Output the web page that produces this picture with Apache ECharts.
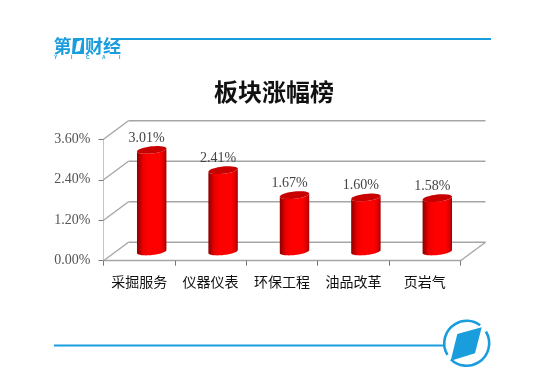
<!DOCTYPE html>
<html>
<head>
<meta charset="utf-8">
<style>html,body{margin:0;padding:0;background:#fff}#c{width:553px;height:384px}</style>
<script src="https://cdn.jsdelivr.net/npm/echarts@6/dist/echarts.min.js"></script>
</head>
<body>
<div id="c"></div>
<script>
const titleText = '板块涨幅榜';
const categories = ['采掘服务', '仪器仪表', '环保工程', '油品改革', '页岩气'];
const values = [3.01, 2.41, 1.67, 1.60, 1.58];
const axisTicks = [0, 1.2, 2.4, 3.6];

const DEPTH_X = 25, DEPTH_Y = -18.5, BAR_RX = 14.8, BAR_RY = 3.6, TILT = -0.11;
const BLUE = '#1a9ddd', GRID = '#a6a6a6', SERIF = '"Liberation Serif","Times New Roman",serif', CJK = '"Noto Sans CJK SC",sans-serif';

function ellipsePoint(cx, cy, a) {
  const x = BAR_RX * Math.cos(a), y = BAR_RY * Math.sin(a);
  return [cx + x * Math.cos(TILT) - y * Math.sin(TILT), cy + x * Math.sin(TILT) + y * Math.cos(TILT)];
}
function ellipseArc(cx, cy, from, to) {
  const pts = [], n = 36;
  for (let i = 0; i <= n; i++) pts.push(ellipsePoint(cx, cy, from + (to - from) * i / n));
  return pts;
}

function renderWall(params, api) {
  const p = api.coord([0, api.value(0)]);
  const x0 = params.coordSys.x, x1 = x0 + params.coordSys.width, y = p[1];
  const lineStyle = { stroke: GRID, lineWidth: 1.4, fill: null };
  const children = [
    { type: 'line', shape: { x1: x0, y1: y, x2: x0 + DEPTH_X, y2: y + DEPTH_Y }, style: lineStyle },
    { type: 'line', shape: { x1: x0 + DEPTH_X, y1: y + DEPTH_Y, x2: x1 + DEPTH_X, y2: y + DEPTH_Y }, style: lineStyle }
  ];
  if (api.value(0) === 0) {
    children.push({ type: 'line', shape: { x1: x1, y1: y, x2: x1 + DEPTH_X, y2: y + DEPTH_Y }, style: lineStyle });
  }
  return { type: 'group', children };
}

function renderBar(params, api) {
  const top = api.coord([api.value(0), api.value(1)]);
  const base = api.coord([api.value(0), 0]);
  const cx = top[0] + DEPTH_X / 2, ty = top[1] + DEPTH_Y / 2, by = base[1] + DEPTH_Y / 2;
  const body = ellipseArc(cx, ty, Math.PI, 0).concat(ellipseArc(cx, by, 0, Math.PI));
  const valueText = api.value(1).toFixed(2) + '%';
  return {
    type: 'group',
    children: [
      {
        type: 'polygon', shape: { points: body },
        style: {
          fill: new echarts.graphic.LinearGradient(0, 0, 1, 0, [
            { offset: 0, color: '#8a0000' }, { offset: 0.2, color: '#ea0000' },
            { offset: 0.4, color: '#ff0000' }, { offset: 0.78, color: '#ff0000' },
            { offset: 0.92, color: '#d80000' }, { offset: 1, color: '#a00000' }
          ])
        }
      },
      { type: 'polygon', shape: { points: ellipseArc(cx, ty, 0, Math.PI * 2) }, style: { fill: '#c80000' } },
      {
        type: 'text', x: cx - 5, y: ty - 12,
        style: { text: valueText, fill: '#444', font: '14px ' + SERIF, align: 'center', verticalAlign: 'middle' }
      }
    ]
  };
}

const chart = echarts.init(document.getElementById('c'), null, { renderer: 'canvas' });
chart.setOption({
  animation: false,
  backgroundColor: '#fff',
  title: {
    text: titleText, left: 269, top: 75, textAlign: 'center',
    textStyle: { fontFamily: CJK, fontSize: 24, fontWeight: 'bold', color: '#111' }
  },
  grid: { left: 103.5, right: 92.5, top: 139.3, bottom: 123.3, containLabel: false },
  xAxis: {
    type: 'category', data: categories,
    axisLine: { lineStyle: { color: GRID, width: 1.4 } },
    axisTick: { show: true, alignWithLabel: false, length: 5, lineStyle: { color: '#777', width: 1 } },
    axisLabel: { interval: 0, margin: 14, fontFamily: CJK, fontSize: 14, color: '#111' }
  },
  yAxis: {
    type: 'value', min: 0, max: 3.6, interval: 1.2,
    axisLine: { show: true, lineStyle: { color: '#c4c4c4', width: 1 } },
    axisTick: { show: true, length: 5, lineStyle: { color: '#777', width: 1 } },
    splitLine: { show: false },
    axisLabel: {
      margin: 13, fontFamily: SERIF, fontSize: 14, color: '#555', padding: [3, 0, 0, 0],
      verticalAlignMinLabel: 'middle', verticalAlignMaxLabel: 'middle',
      formatter: v => v.toFixed(2) + '%'
    }
  },
  series: [
    { type: 'custom', data: axisTicks.map(v => [v]), encode: { y: 0 }, renderItem: renderWall, silent: true, z: 1, clip: false },
    { type: 'custom', data: values.map((v, i) => [i, v]), encode: { x: 0, y: 1 }, renderItem: renderBar, silent: true, z: 3, clip: false }
  ],
  graphic: [
    { type: 'line', silent: true, shape: { x1: 113, y1: 39, x2: 491, y2: 39 }, style: { stroke: BLUE, lineWidth: 2 } },
    { type: 'line', silent: true, shape: { x1: 54, y1: 345.5, x2: 444, y2: 345.5 }, style: { stroke: BLUE, lineWidth: 2 } },
    { type: 'text', silent: true, x: 53.5, y: 37, style: { text: '第', fill: BLUE, font: 'bold 18px ' + CJK } },
    { type: 'polygon', silent: true, shape: { points: [[73, 38], [84, 38], [84, 54], [72, 54]] }, style: { fill: BLUE } },
    { type: 'polygon', silent: true, shape: { points: [[82, 40], [77, 41.5], [75, 52], [80, 51]] }, style: { fill: '#fff' } },
    { type: 'text', silent: true, x: 85, y: 37, style: { text: '财经', fill: BLUE, font: 'bold 18px ' + CJK } },
    { type: 'text', silent: true, x: 54, y: 55, style: { text: 'Y', fill: BLUE, font: 'bold 5px "Liberation Sans",sans-serif' } },
    { type: 'text', silent: true, x: 71, y: 55, style: { text: 'I', fill: BLUE, font: 'bold 5px "Liberation Sans",sans-serif' } },
    { type: 'text', silent: true, x: 86, y: 55, style: { text: 'C', fill: BLUE, font: 'bold 5px "Liberation Sans",sans-serif' } },
    { type: 'text', silent: true, x: 102, y: 55, style: { text: 'A', fill: BLUE, font: 'bold 5px "Liberation Sans",sans-serif' } },
    { type: 'text', silent: true, x: 119, y: 55, style: { text: 'I', fill: BLUE, font: 'bold 5px "Liberation Sans",sans-serif' } },
    { type: 'arc', silent: true, shape: { cx: 466.7, cy: 343.3, r: 22.5, startAngle: -0.55, endAngle: 2.35, clockwise: true }, style: { stroke: BLUE, lineWidth: 2.6, fill: null } },
    { type: 'arc', silent: true, shape: { cx: 466.7, cy: 343.3, r: 22.5, startAngle: 2.6, endAngle: 5.35, clockwise: true }, style: { stroke: BLUE, lineWidth: 2.6, fill: null } },
    { type: 'polygon', silent: true, shape: { points: [[481.7, 327.3], [457.3, 334], [450.7, 360.7], [475, 353.3]] }, style: { fill: BLUE } }
  ]
});
</script>
</body>
</html>
